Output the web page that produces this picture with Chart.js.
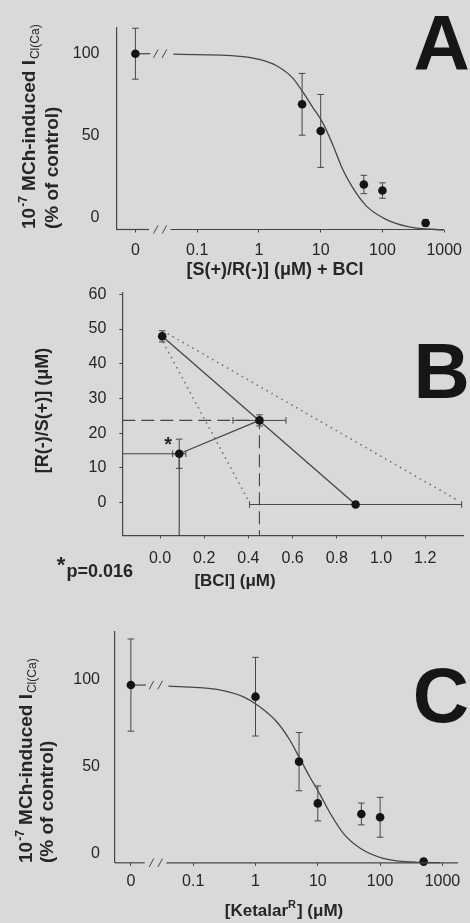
<!DOCTYPE html>
<html>
<head>
<meta charset="utf-8">
<title>Ketamine enantiomers and BCl – inhibition and isobologram</title>
<script src="https://cdn.jsdelivr.net/npm/chart.js@4.4.1/dist/chart.umd.min.js"></script>
<style>
  html, body { margin:0; padding:0; width:470px; height:923px; overflow:hidden; background:#d9d9d7; }
  canvas { position:absolute; left:0; }
</style>
</head>
<body>
<canvas id="chartA" width="470" height="300" style="top:0px"></canvas>
<canvas id="chartB" width="470" height="325" style="top:270px"></canvas>
<canvas id="chartC" width="470" height="323" style="top:600px"></canvas>
<script>
// ================= DATA =================
// Panel A : [S(+)/R(-)] (µM) + BCl  -> % of control
const concA = [0, 5, 10, 50, 100, 500];
const respA = [100, 69.2, 53.0, 20.4, 16.7, -3.0];
const semA  = [15.5, 18.8, 22.2, 5.6, 4.7, 1.9];
const fitConcA = [0.041, 0.49, 1.02, 1.9, 3.5, 5.1, 7.4, 10.7, 15.5, 22.4, 32.4, 53.7, 112, 269, 977];
const fitRespA = [99.7, 98.4, 96.5, 92.8, 85.3, 76.9, 67.5, 58.2, 45.1, 30.1, 18.9, 7.7, -0.7, -5.4, -7.3];

// Panel C : [Ketalar R] (µM) -> % of control
const concC = [0, 1, 5, 10, 50, 100, 500];
const respC = [97.1, 90.4, 52.9, 28.8, 22.7, 20.8, -4.8];
const semC  = [26.6, 22.7, 16.8, 10.1, 6.3, 11.5, 0];
const fitConcC = [0.040, 0.24, 0.63, 1.17, 2.19, 3.55, 5.13, 7.41, 11.0, 15.8, 25.7, 47.9, 112, 389, 912];
const fitRespC = [96.5, 94.6, 90.4, 84.6, 75.9, 65.4, 54.8, 44.2, 33.6, 23.1, 11.5, 2.9, -2.9, -5.2, -5.4];

// Panel B : isobologram  [BCl] (µM) vs [R(-)/S(+)] (µM)
const bclConc = [0.01, 0.45, 0.087, 0.885];
const rsConc  = [47.9, 23.7, 14.1, -0.5];
const bclErr  = [0, 0.12, 0.03, 0.48];
const rsErr   = [1.6, 1.6, 4.2, 0];
const ciUpperX = [0.015, 1.355], ciUpperY = [49.4, 0.4];
const ciLowerX = [0.015, 0.40],  ciLowerY = [46.1, 0.6];

// Tick labels
const logTickConc   = [0, 0.1, 1, 10, 100, 1000];
const logTickLabels = ['0', '0.1', '1', '10', '100', '1000'];
const pctTicks = [0, 50, 100];
const bclTicks = [0, 0.2, 0.4, 0.6, 0.8, 1.0, 1.2];
const rsTicks  = [0, 10, 20, 30, 40, 50, 60];

// ================= STYLE / LAYOUT =================
const INK  = '#262626';
const LINE = '#464646';
const DOT  = '#141414';
const FONT = '"Liberation Sans", Arial, Helvetica, sans-serif';
const W = 470;
const ZERO_LOG = -2;                       // where "0" sits on the log axis
const BRK = { axisEnd: -1.78, stubEnd: -1.76, s1: -1.67, s2: -1.53, resume: -1.43 };

const FA = { canvasTop:0,   h:300, left:117,   right:445.5, top:10,    bottom:229.5, xMin:-2.298, xMax:3.0,   yMin:-7.0,  yMax:116.2, xPad:8, yPad:17.5, t1:35, t2:58 };
const FC = { canvasTop:600, h:323, left:115,   right:458,   top:631.7, bottom:862.8, xMin:-2.255, xMax:3.25,  yMin:-5.48, yMax:127.9, xPad:6, yPad:15, t1:32, t2:53 };
const FB = { canvasTop:270, h:325, left:122.3, right:463.3, top:285,   bottom:535.5, xMin:-0.1706, xMax:1.3724, yMin:-9.43, yMax:60.48, xPad:10, yPad:13 };

const lg = c => c === 0 ? ZERO_LOG : Math.log10(c);
const pts = (xs, ys) => xs.map((x, i) => ({ x, y: ys[i] }));

function seg(ctx, x1, y1, x2, y2) { ctx.beginPath(); ctx.moveTo(x1, y1); ctx.lineTo(x2, y2); ctx.stroke(); }
function slash(ctx, x, y) { seg(ctx, x - 2.3, y + 4.2, x + 2.3, y - 4.2); }

// error bars through the chart's own scales
const errorBars = {
  id: 'errorBars',
  beforeDatasetsDraw(chart) {
    const { ctx, scales: { x, y } } = chart;
    const CAP = 3.3;
    ctx.save();
    ctx.strokeStyle = LINE; ctx.lineWidth = 1;
    chart.data.datasets.forEach(ds => {
      if (!ds.errY && !ds.errX) return;
      ds.data.forEach((p, j) => {
        const px = x.getPixelForValue(p.x), py = y.getPixelForValue(p.y);
        const ey = ds.errY ? ds.errY[j] : 0, ex = ds.errX ? ds.errX[j] : 0;
        if (ey) {
          const t = y.getPixelForValue(p.y + ey), b = y.getPixelForValue(p.y - ey);
          seg(ctx, px, t, px, b); seg(ctx, px - CAP, t, px + CAP, t); seg(ctx, px - CAP, b, px + CAP, b);
        }
        if (ex) {
          const l = x.getPixelForValue(p.x - ex), r = x.getPixelForValue(p.x + ex);
          seg(ctx, l, py, r, py); seg(ctx, l, py - CAP, l, py + CAP); seg(ctx, r, py - CAP, r, py + CAP);
        }
      });
    });
    ctx.restore();
  }
};

function drawPctTitle(ctx, yStart, x1, x2) {
  ctx.save();
  ctx.fillStyle = INK;
  ctx.textAlign = 'left'; ctx.textBaseline = 'alphabetic';
  // line 1
  ctx.save();
  ctx.translate(x1, yStart); ctx.rotate(-Math.PI / 2);
  let cx = 0;
  ctx.font = 'bold 19px ' + FONT;
  ctx.fillText('10', cx, 0); cx += ctx.measureText('10').width + 1;
  ctx.font = 'bold 12px ' + FONT;
  ctx.fillText('-7', cx, -8); cx += ctx.measureText('-7').width;
  ctx.font = 'bold 19px ' + FONT;
  ctx.fillText(' MCh-induced I', cx, 0); cx += ctx.measureText(' MCh-induced I').width + 1;
  ctx.font = '12px ' + FONT;
  ctx.fillText('Cl(Ca)', cx, 4);
  ctx.restore();
  // line 2
  ctx.save();
  ctx.translate(x2, yStart); ctx.rotate(-Math.PI / 2);
  ctx.font = 'bold 19px ' + FONT;
  ctx.fillText('(% of control)', 0, 0);
  ctx.restore();
  ctx.restore();
}

function drawLetter(ctx, ch, x, y) {
  ctx.save();
  ctx.fillStyle = '#161616';
  ctx.font = 'bold 78px ' + FONT;
  ctx.textAlign = 'center'; ctx.textBaseline = 'alphabetic';
  ctx.fillText(ch, x, y);
  ctx.restore();
}

function logPanel(id, F, conc, resp, sem, fitC, fitR, decorate) {
  const breaks = {
    id: 'breaks',
    afterDatasetsDraw(chart) {
      const { ctx, chartArea: ca, scales: { x, y } } = chart;
      const yA = ca.bottom, yC = y.getPixelForValue(resp[0]);
      ctx.save();
      ctx.strokeStyle = LINE; ctx.lineWidth = 1.2;
      seg(ctx, ca.left, yA, x.getPixelForValue(BRK.axisEnd), yA);
      seg(ctx, x.getPixelForValue(BRK.resume), yA, ca.right, yA);
      ctx.lineWidth = 1;
      [BRK.s1, BRK.s2].forEach(v => { slash(ctx, x.getPixelForValue(v), yA); slash(ctx, x.getPixelForValue(v), yC); });
      ctx.restore();
    },
    afterDraw(chart) {
      const ctx = chart.ctx;
      ctx.save(); ctx.translate(0, -F.canvasTop);
      decorate(ctx, chart);
      ctx.restore();
    }
  };
  return new Chart(document.getElementById(id), {
    type: 'scatter',
    data: {
      datasets: [
        { label: 'mean ± SEM', data: pts(conc.map(lg), resp), errY: sem, pointRadius: 4.3,
          pointBackgroundColor: DOT, pointBorderWidth: 0, showLine: false, clip: false },
        { label: 'fit', data: pts(fitC.map(lg), fitR), showLine: true, pointRadius: 0,
          borderColor: LINE, borderWidth: 1.3, cubicInterpolationMode: 'monotone', clip: false },
        { label: 'stub', data: [{ x: ZERO_LOG, y: resp[0] }, { x: BRK.stubEnd, y: resp[0] }], showLine: true,
          pointRadius: 0, borderColor: LINE, borderWidth: 1.2, clip: false }
      ]
    },
    options: {
      responsive: false, animation: false, events: [],
      layout: { padding: { left: 0, top: F.top - F.canvasTop, right: W - F.right, bottom: 0 } },
      plugins: { legend: { display: false }, tooltip: { enabled: false } },
      scales: {
        x: {
          type: 'linear', min: F.xMin, max: F.xMax,
          afterBuildTicks: s => { s.ticks = logTickConc.map(c => ({ value: lg(c) })); },
          afterFit: s => { s.height = F.canvasTop + F.h - F.bottom; },
          ticks: { autoSkip: false, maxRotation: 0, padding: F.xPad, color: INK,
                   font: { family: FONT, size: 16 }, callback: (v, i) => logTickLabels[i] },
          grid: { display: true, drawOnChartArea: false, drawTicks: true, tickLength: 3, color: LINE, lineWidth: 1 },
          border: { display: false }
        },
        y: {
          type: 'linear', min: F.yMin, max: F.yMax,
          afterBuildTicks: s => { s.ticks = pctTicks.map(v => ({ value: v })); },
          afterFit: s => { s.width = F.left; },
          ticks: { padding: F.yPad, color: INK, font: { family: FONT, size: 16 }, callback: v => String(v) },
          grid: { display: false, drawTicks: false },
          border: { display: true, color: LINE, width: 1.2 }
        }
      }
    },
    plugins: [errorBars, breaks]
  });
}

// ---------- Panel A ----------
logPanel('chartA', FA, concA, respA, semA, fitConcA, fitRespA, (ctx) => {
  drawPctTitle(ctx, 229, FA.t1, FA.t2);
  ctx.fillStyle = INK;
  ctx.font = 'bold 18px ' + FONT; ctx.textAlign = 'center'; ctx.textBaseline = 'middle';
  ctx.fillText('[S(+)/R(-)] (μM) + BCl', 275, 270);
  drawLetter(ctx, 'A', 441.7, 70);
});

// ---------- Panel C ----------
logPanel('chartC', FC, concC, respC, semC, fitConcC, fitRespC, (ctx) => {
  drawPctTitle(ctx, 863, FC.t1, FC.t2);
  ctx.fillStyle = INK;
  ctx.textBaseline = 'middle'; ctx.textAlign = 'left';
  const p1 = '[Ketalar', p2 = 'R', p3 = '] (μM)';
  ctx.font = 'bold 17px ' + FONT; const w1 = ctx.measureText(p1).width, w3 = ctx.measureText(p3).width;
  ctx.font = 'bold 11px ' + FONT; const w2 = ctx.measureText(p2).width;
  let x0 = 284 - (w1 + w2 + w3 + 1) / 2;
  ctx.font = 'bold 17px ' + FONT; ctx.fillText(p1, x0, 911.7); x0 += w1;
  ctx.font = 'bold 11px ' + FONT; ctx.fillText(p2, x0, 905); x0 += w2 + 1;
  ctx.font = 'bold 17px ' + FONT; ctx.fillText(p3, x0, 911.7);
  drawLetter(ctx, 'C', 441, 722);
});

// ---------- Panel B ----------
(function () {
  const F = FB;
  const P = pts(bclConc, rsConc);
  const deco = {
    id: 'decoB',
    afterDraw(chart) {
      const { ctx, scales: { x, y } } = chart;
      ctx.save();
      ctx.fillStyle = INK;
      // asterisk beside the combination point
      ctx.font = 'bold 20px ' + FONT; ctx.textAlign = 'center'; ctx.textBaseline = 'middle';
      ctx.fillText('*', x.getPixelForValue(bclConc[2]) - 11, y.getPixelForValue(rsConc[2]) - 8);
      ctx.translate(0, -F.canvasTop);
      // y title
      ctx.save();
      ctx.translate(48, 410.5); ctx.rotate(-Math.PI / 2);
      ctx.font = 'bold 18px ' + FONT; ctx.textAlign = 'center'; ctx.textBaseline = 'alphabetic';
      ctx.fillText('[R(-)/S(+)] (μM)', 0, 0);
      ctx.restore();
      // x title
      ctx.font = 'bold 17px ' + FONT; ctx.textAlign = 'center'; ctx.textBaseline = 'middle';
      ctx.fillText('[BCl] (μM)', 235, 581.7);
      // p value note
      ctx.font = 'bold 22px ' + FONT; ctx.textAlign = 'center';
      ctx.fillText('*', 61, 566);
      ctx.font = 'bold 18px ' + FONT; ctx.textAlign = 'left';
      ctx.fillText('p=0.016', 66.5, 571.7);
      drawLetter(ctx, 'B', 441.7, 398.3);
      ctx.restore();
    }
  };
  new Chart(document.getElementById('chartB'), {
    type: 'scatter',
    data: {
      datasets: [
        { label: 'mean ± SEM', data: P, errX: bclErr, errY: rsErr, pointRadius: 4.3,
          pointBackgroundColor: DOT, pointBorderWidth: 0, showLine: false, clip: false },
        { label: 'isobole', data: [P[0], P[3]], showLine: true, pointRadius: 0, borderColor: LINE, borderWidth: 1.3 },
        { label: 'combination', data: [P[2], P[1]], showLine: true, pointRadius: 0, borderColor: LINE, borderWidth: 1.2 },
        { label: 'drop solid', data: [{ x: F.xMin, y: rsConc[2] }, P[2], { x: bclConc[2], y: F.yMin }],
          showLine: true, pointRadius: 0, borderColor: LINE, borderWidth: 1.1, clip: false },
        { label: 'drop dashed', data: [{ x: F.xMin, y: rsConc[1] }, P[1], { x: bclConc[1], y: F.yMin }],
          showLine: true, pointRadius: 0, borderColor: LINE, borderWidth: 1.1, borderDash: [13, 6], clip: false },
        { label: 'CI upper', data: pts(ciUpperX, ciUpperY), showLine: true, pointRadius: 0,
          borderColor: '#707070', borderWidth: 1.7, borderDash: [0.1, 5.6], borderCapStyle: 'round' },
        { label: 'CI lower', data: pts(ciLowerX, ciLowerY), showLine: true, pointRadius: 0,
          borderColor: '#707070', borderWidth: 1.7, borderDash: [0.1, 5.6], borderCapStyle: 'round' }
      ]
    },
    options: {
      responsive: false, animation: false, events: [],
      layout: { padding: { left: 0, top: F.top - F.canvasTop, right: W - F.right, bottom: 0 } },
      plugins: { legend: { display: false }, tooltip: { enabled: false } },
      scales: {
        x: {
          type: 'linear', min: F.xMin, max: F.xMax,
          afterBuildTicks: s => { s.ticks = bclTicks.map(v => ({ value: v })); },
          afterFit: s => { s.height = F.canvasTop + F.h - F.bottom; },
          ticks: { autoSkip: false, maxRotation: 0, padding: F.xPad, color: INK,
                   font: { family: FONT, size: 16 }, callback: v => v.toFixed(1) },
          grid: { display: true, drawOnChartArea: false, drawTicks: true, tickLength: 3, color: LINE },
          border: { display: true, color: LINE, width: 1.2 }
        },
        y: {
          type: 'linear', min: F.yMin, max: F.yMax,
          afterBuildTicks: s => { s.ticks = rsTicks.map(v => ({ value: v })); },
          afterFit: s => { s.width = F.left; },
          ticks: { padding: F.yPad, color: INK, font: { family: FONT, size: 16 }, callback: v => String(v) },
          grid: { display: true, drawOnChartArea: false, drawTicks: true, tickLength: 3, color: LINE },
          border: { display: true, color: LINE, width: 1.2 }
        }
      }
    },
    plugins: [errorBars, deco]
  });
})();
</script>
</body>
</html>
